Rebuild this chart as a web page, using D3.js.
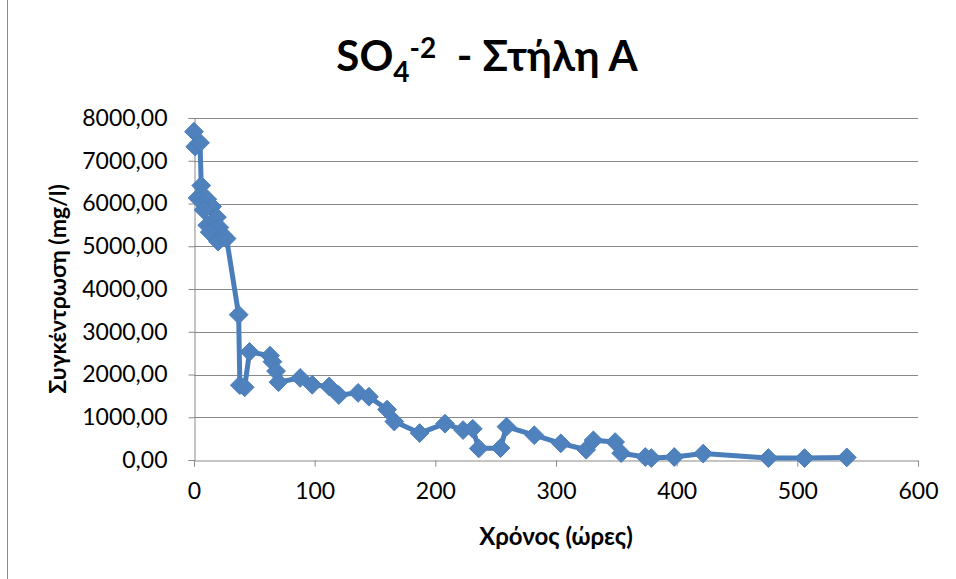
<!DOCTYPE html>
<html>
<head>
<meta charset="utf-8">
<script src="https://cdn.jsdelivr.net/npm/d3@7"></script>
<style>
  html, body { margin: 0; padding: 0; background: #fff; }
  svg { display: block; }
  text { font-family: Lato, "Open Sans", "Noto Sans", sans-serif; fill: #000; }
</style>
</head>
<body>
<svg id="chart" width="956" height="579"></svg>
<script>
// Sulphate concentration in column A over elapsed time
const hours = [0, 1, 5, 6, 3, 11, 15, 8, 19, 11, 21, 13, 24, 20, 27,
  37, 38, 42, 46, 63, 65, 68, 70, 88, 98, 112, 120, 136, 145, 160, 166,
  187, 208, 223, 231, 236, 254, 259, 282, 304, 325, 331, 349, 354,
  374, 379, 398, 422, 476, 506, 541];
const so4 = [7680, 7330, 7420, 6420, 6130, 6100, 5930, 5850, 5680, 5490, 5440, 5330, 5260, 5110, 5180,
  3400, 1750, 1700, 2530, 2440, 2300, 2080, 1820, 1920, 1760, 1720, 1520, 1570, 1480, 1180, 900,
  630, 850, 700, 730, 270, 280, 780, 580, 390, 240, 460, 420, 160,
  70, 45, 70, 150, 45, 45, 60];
const xTicks = [0, 100, 200, 300, 400, 500, 600];
const yTicks = [0, 1000, 2000, 3000, 4000, 5000, 6000, 7000, 8000];

const titleMain = "SO";
const titleSub = "4";
const titleSup = "-2";
const titleRest = "  - Στήλη Α";
const xTitle = "Χρόνος (ώρες)";
const yTitle = "Συγκέντρωση (mg/l)";

const svg = d3.select("#chart");
const plot = { left: 194, right: 918, top: 118, bottom: 460 };

const x = d3.scaleLinear().domain([0, 600]).range([plot.left, plot.right]);
const y = d3.scaleLinear().domain([0, 8000]).range([plot.bottom, plot.top]);

const grLocale = d3.formatLocale({ decimal: ",", thousands: "", grouping: [3], currency: ["", "€"] });
const fmtY = grLocale.format(".2f");

// outer frame edge
svg.append("line")
  .attr("x1", 7.5).attr("x2", 7.5).attr("y1", 0).attr("y2", 579)
  .attr("stroke", "#8c8c8c").attr("stroke-width", 1);

// horizontal gridlines
svg.append("g")
  .selectAll("line")
  .data(yTicks.filter(d => d > 0))
  .join("line")
  .attr("x1", plot.left).attr("x2", plot.right)
  .attr("y1", d => Math.round(y(d)) + 0.5).attr("y2", d => Math.round(y(d)) + 0.5)
  .attr("stroke", "#898989").attr("stroke-width", 1);

// y axis
const yAxis = svg.append("g")
  .attr("transform", `translate(${plot.left + 0.5},0)`)
  .call(d3.axisLeft(y).tickValues(yTicks).tickFormat(fmtY).tickSize(6).tickPadding(21));
yAxis.select(".domain").attr("stroke", "#898989");
yAxis.selectAll(".tick line").attr("stroke", "#898989");
yAxis.selectAll(".tick text")
  .style("font-size", "23px").attr("fill", "#000");

// x axis
const xAxis = svg.append("g")
  .attr("transform", `translate(0,${plot.bottom + 0.5})`)
  .call(d3.axisBottom(x).tickValues(xTicks).tickFormat(d3.format("d")).tickSize(6).tickPadding(16));
xAxis.select(".domain").attr("stroke", "#898989");
xAxis.selectAll(".tick line").attr("stroke", "#898989");
xAxis.selectAll(".tick text")
  .style("font-size", "23px").attr("fill", "#000");

// series line
const pts = hours.map((h, i) => [h, so4[i]]);
svg.append("path")
  .datum(pts)
  .attr("fill", "none")
  .attr("stroke", "#4A7EBB")
  .attr("stroke-width", 5)
  .attr("stroke-linejoin", "round")
  .attr("stroke-linecap", "round")
  .attr("d", d3.line().x(d => x(d[0])).y(d => y(d[1])));

// diamond markers
const diamond = d3.symbol().type(d3.symbolDiamond2).size(225);
svg.append("g")
  .selectAll("path")
  .data(pts)
  .join("path")
  .attr("transform", d => `translate(${x(d[0])},${y(d[1])})`)
  .attr("d", diamond)
  .attr("fill", "#4F81BD")
  .attr("stroke", "#4A7EBB")
  .attr("stroke-width", 1);

// title
const title = svg.append("text")
  .attr("x", 487).attr("y", 71)
  .attr("text-anchor", "middle")
  .style("font-size", "42px").style("font-weight", "bold");
title.append("tspan").text(titleMain);
title.append("tspan").attr("dy", 11).style("font-size", "28px").text(titleSub);
title.append("tspan").attr("dy", -24).style("font-size", "28px").text(titleSup);
title.append("tspan").attr("dy", 13).attr("xml:space", "preserve").text(titleRest);

// axis titles
svg.append("text")
  .attr("x", (plot.left + plot.right) / 2).attr("y", 545)
  .attr("text-anchor", "middle")
  .style("font-size", "24px").style("font-weight", "bold")
  .text(xTitle);

svg.append("text")
  .attr("transform", `translate(66,${(plot.top + plot.bottom) / 2}) rotate(-90)`)
  .attr("text-anchor", "middle")
  .style("font-size", "23px").style("font-weight", "bold")
  .text(yTitle);
</script>
</body>
</html>
